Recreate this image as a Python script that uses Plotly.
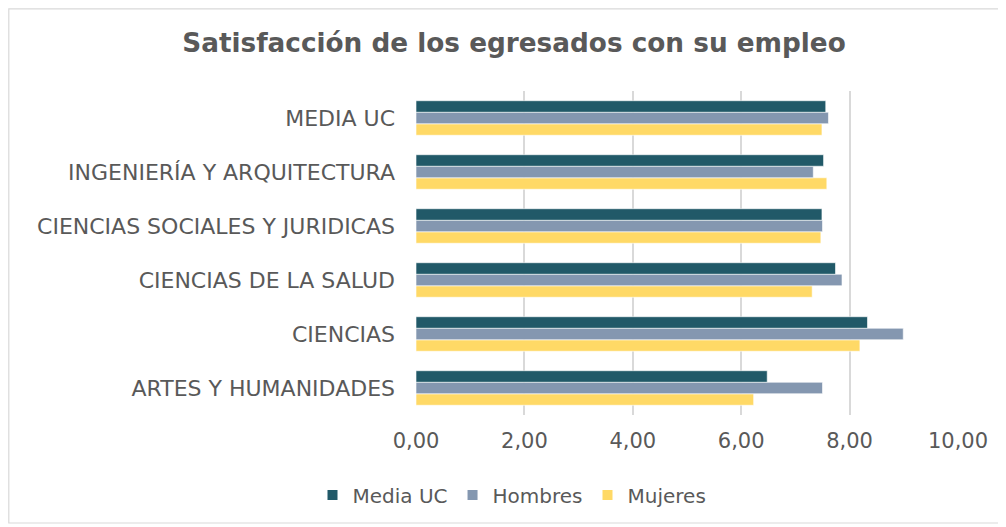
import plotly.graph_objects as go

categories = ["ARTES Y HUMANIDADES", "CIENCIAS", "CIENCIAS DE LA SALUD",
              "CIENCIAS SOCIALES Y JURIDICAS", "INGENIERÍA Y ARQUITECTURA", "MEDIA UC"]
media_uc = [6.48, 8.33, 7.74, 7.49, 7.52, 7.56]
hombres = [7.50, 8.99, 7.86, 7.50, 7.33, 7.61]
mujeres = [6.23, 8.19, 7.31, 7.47, 7.58, 7.49]
x_ticks = [0, 2, 4, 6, 8, 10]
x_tick_labels = ["0,00", "2,00", "4,00", "6,00", "8,00", "10,00"]

FONT = "DejaVu Sans"
GREY = "#595959"

# page has an 8px body margin; compensate so the plot area lands where the reference has it
OFF = 8
W, H = 1006 - OFF, 527 - OFF
L, R, T, B = 416 - OFF, 48, 91 - OFF, 112
PW, PH = W - L - R, H - T - B

fig = go.Figure()
fig.add_trace(go.Bar(y=categories, x=mujeres, name="Mujeres", orientation="h",
                     marker=dict(color="#FFD966", line=dict(width=0.6, color="#FFFFFF"))))
fig.add_trace(go.Bar(y=categories, x=hombres, name="Hombres", orientation="h",
                     marker=dict(color="#8497B0", line=dict(width=0.6, color="#FFFFFF"))))
fig.add_trace(go.Bar(y=categories, x=media_uc, name="Media UC", orientation="h",
                     marker=dict(color="#215968", line=dict(width=0.6, color="#FFFFFF"))))

fig.update_layout(
    width=W, height=H,
    barmode="group", bargap=0.36, bargroupgap=0,
    paper_bgcolor="white", plot_bgcolor="white",
    margin=dict(l=L, r=R, t=T, b=B),
    title=dict(text="<b>Satisfacción de los egresados con su empleo</b>",
               x=(514 - OFF) / W, xanchor="center", y=1 - (43 - OFF) / H, yanchor="middle",
               font=dict(family=FONT, size=26.3, color=GREY)),
    font=dict(family=FONT, size=21, color=GREY),
    showlegend=True,
    legend=dict(orientation="h", traceorder="reversed",
                x=(512 - 416) / PW, xanchor="center",
                y=(415 - 495) / PH, yanchor="middle",
                font=dict(family=FONT, size=20, color=GREY),
                itemwidth=30, itemsizing="constant"),
    xaxis=dict(range=[0, 10], tickvals=x_ticks, ticktext=x_tick_labels,
               showgrid=True, gridcolor="#D9D9D9", gridwidth=1.5, zeroline=False,
               showline=False, ticks="", ticklabelstandoff=11,
               tickfont=dict(family=FONT, size=21, color=GREY), fixedrange=True),
    yaxis=dict(showgrid=False, zeroline=False, showline=False, ticks="",
               ticklabelstandoff=20, tickfont=dict(family=FONT, size=22, color=GREY),
               fixedrange=True),
    shapes=[dict(type="rect", xref="paper", yref="paper",
                 x0=(8.8 - 416) / PW, x1=(1002 - 416) / PW,
                 y0=(415 - 523) / PH, y1=(415 - 8.8) / PH,
                 line=dict(color="#D9D9D9", width=1.2), fillcolor="rgba(0,0,0,0)",
                 layer="below")],
)

fig.write_html("out.html")
